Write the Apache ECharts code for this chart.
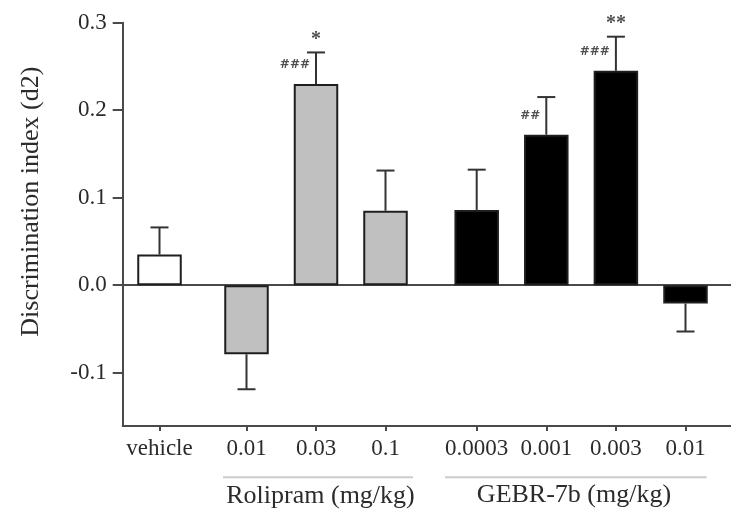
<!DOCTYPE html>
<html>
<head>
<meta charset="utf-8">
<script src="https://cdn.jsdelivr.net/npm/echarts@6/dist/echarts.min.js"></script>
<style>
html,body{margin:0;padding:0;background:#fff;}
#chart{width:731px;height:516px;}
</style>
</head>
<body>
<div id="chart"></div>
<script>
// ---- data ----
const vehicleCats = ['vehicle'];
const rolipramCats = ['0.01', '0.03', '0.1'];
const gebrCats = ['0.0003', '0.001', '0.003', '0.01'];

const vehicleMean = [0.035];
const vehicleSem = [0.031];
const rolipramMean = [-0.079, 0.230, 0.085];
const rolipramSem = [0.040, 0.036, 0.046];
const gebrMean = [0.086, 0.172, 0.245, -0.021];
const gebrSem = [0.046, 0.043, 0.039, 0.032];

const vehicleHash = [''];
const vehicleStar = [''];
const rolipramHash = ['', '###', ''];
const rolipramStar = ['', '*', ''];
const gebrHash = ['', '##', '###', ''];
const gebrStar = ['', '', '**', ''];

const yName = 'Discrimination index (d2)';
const rolipramLabel = 'Rolipram (mg/kg)';
const gebrLabel = 'GEBR-7b (mg/kg)';
const yMin = -0.161, yMax = 0.3;

// ---- styling ----
const SERIF = '"Liberation Serif", "Times New Roman", serif';
const TXT = '#2b2b2b';
const AX = '#4a4a4a';
const TOP = 22.7, HEIGHT = 403.3;

function hiddenY(gi) {
  return { gridIndex: gi, type: 'value', min: yMin, max: yMax, show: false };
}
function catX(gi, cats) {
  return {
    gridIndex: gi, type: 'category', data: cats, position: 'bottom',
    axisLine: { show: false, onZero: false },
    axisTick: { show: true, alignWithLabel: true, interval: 0, length: 5, lineStyle: { color: AX, width: 2 } },
    axisLabel: { show: true, interval: 0, hideOverlap: false, margin: 11, color: TXT, fontFamily: SERIF, fontSize: 23 },
    splitLine: { show: false }
  };
}
function errRender(means, sems, hashes, stars) {
  return function (params, api) {
    const i = params.dataIndex;
    const m = means[i], s = sems[i];
    const end = m >= 0 ? m + s : m - s;
    const p0 = api.coord([i, m]);
    const p1 = api.coord([i, end]);
    const st = { stroke: '#333', lineWidth: 2 };
    const ch = [
      { type: 'line', shape: { x1: p0[0], y1: p0[1], x2: p1[0], y2: p1[1] }, style: st },
      { type: 'line', shape: { x1: p1[0] - 9, y1: p1[1], x2: p1[0] + 9, y2: p1[1] }, style: st }
    ];
    if (hashes[i]) {
      ch.push({ type: 'text', style: { text: hashes[i], x: p0[0] - 6, y: p0[1] - 19,
        align: 'right', verticalAlign: 'middle', font: 'bold 12px "DejaVu Sans"', fill: '#505050' } });
    }
    if (stars[i]) {
      ch.push({ type: 'text', style: { text: stars[i], x: p1[0], y: p1[1] - 13,
        align: 'center', verticalAlign: 'middle', font: 'bold 20px ' + SERIF, fill: '#505050' } });
    }
    return { type: 'group', children: ch };
  };
}
function barSeries(gi, means, fill) {
  return {
    type: 'bar', xAxisIndex: gi, yAxisIndex: gi, data: means, barWidth: 44.5,
    itemStyle: { color: fill, borderColor: '#1e1e1e', borderWidth: 2 },
    silent: true, animation: false
  };
}
function errSeries(gi, means, sems, hashes, stars) {
  return {
    type: 'custom', xAxisIndex: gi, yAxisIndex: gi,
    data: means.map((m, i) => [i, m]), encode: { x: 0, y: 1 },
    renderItem: errRender(means, sems, hashes, stars), z: 5, animation: false, silent: true
  };
}

const option = {
  backgroundColor: '#fff',
  animation: false,
  grid: [
    { left: 122.7, right: 0, top: TOP, height: HEIGHT },          // frame (y axis, zero line, bottom line)
    { left: 122.7, width: 73.6, top: TOP, height: HEIGHT },       // vehicle
    { left: 211.75, width: 208.5, top: TOP, height: HEIGHT },     // rolipram
    { left: 441.9, width: 278.4, top: TOP, height: HEIGHT }       // GEBR-7b
  ],
  xAxis: [
    { gridIndex: 0, type: 'value', min: 0, max: 1, position: 'top',
      axisLine: { show: true, onZero: true, lineStyle: { color: AX, width: 2 } },
      axisTick: { show: false }, axisLabel: { show: false }, splitLine: { show: false } },
    catX(1, vehicleCats),
    catX(2, rolipramCats),
    catX(3, gebrCats),
    { gridIndex: 0, type: 'value', min: 0, max: 1, position: 'bottom',
      axisLine: { show: true, onZero: false, lineStyle: { color: AX, width: 2 } },
      axisTick: { show: false }, axisLabel: { show: false }, splitLine: { show: false } }
  ],
  yAxis: [
    { gridIndex: 0, type: 'value', min: yMin, max: yMax, splitNumber: 5,
      axisLine: { show: true, onZero: false, lineStyle: { color: AX, width: 2 } },
      axisTick: { show: true, length: 10, lineStyle: { color: AX, width: 2 } },
      axisLabel: { show: true, showMinLabel: false, margin: 16, color: TXT, fontFamily: SERIF, fontSize: 23,
        formatter: v => (Math.abs(v) < 1e-9 ? 0 : v).toFixed(1) },
      splitLine: { show: false } },
    hiddenY(1), hiddenY(2), hiddenY(3)
  ],
  series: [
    barSeries(1, vehicleMean, '#ffffff'),
    barSeries(2, rolipramMean, '#c0c0c0'),
    barSeries(3, gebrMean, '#000000'),
    errSeries(1, vehicleMean, vehicleSem, vehicleHash, vehicleStar),
    errSeries(2, rolipramMean, rolipramSem, rolipramHash, rolipramStar),
    errSeries(3, gebrMean, gebrSem, gebrHash, gebrStar)
  ],
  graphic: [
    { type: 'text', x: 31.5, y: 201.7, rotation: Math.PI / 2,
      style: { text: yName, font: '26px ' + SERIF, fill: TXT, align: 'center', verticalAlign: 'middle' } },
    { type: 'line', shape: { x1: 223, y1: 477.3, x2: 413, y2: 477.3 }, style: { stroke: '#cccccc', lineWidth: 2 } },
    { type: 'line', shape: { x1: 445, y1: 477.3, x2: 706.7, y2: 477.3 }, style: { stroke: '#cccccc', lineWidth: 2 } },
    { type: 'text', x: 320.5, y: 496, style: { text: rolipramLabel, font: '26px ' + SERIF, fill: TXT, align: 'center', verticalAlign: 'middle' } },
    { type: 'text', x: 574, y: 495, style: { text: gebrLabel, font: '26px ' + SERIF, fill: TXT, align: 'center', verticalAlign: 'middle' } }
  ]
};

const chart = echarts.init(document.getElementById('chart'), null, { renderer: 'canvas' });
chart.setOption(option);
</script>
</body>
</html>
